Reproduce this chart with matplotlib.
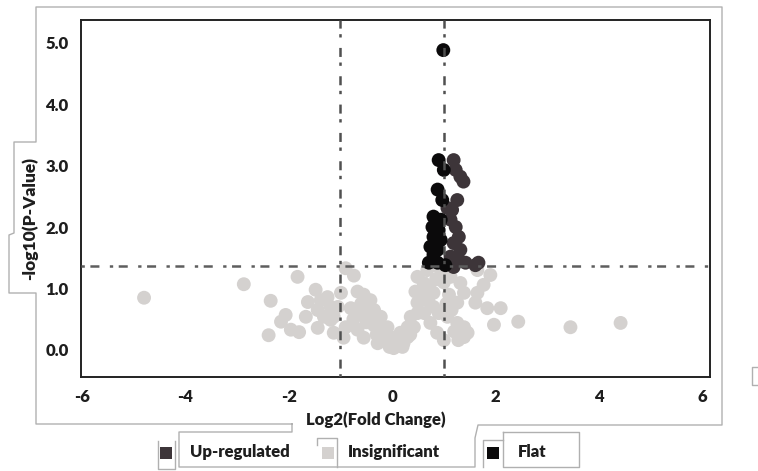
import matplotlib
matplotlib.use("Agg")
import matplotlib.pyplot as plt
from matplotlib.lines import Line2D
from matplotlib.patches import Rectangle

plt.rcParams['font.family'] = ['Lato', 'DejaVu Sans']
plt.rcParams['font.weight'] = 'heavy'
plt.rcParams['lines.scale_dashes'] = False

# ---------------- data ----------------
insig_x = [-4.80, -2.87, -2.35, -2.39, -2.06, -2.15, -1.96, -1.80, -1.83, -1.67,
           -1.63, -1.48, -1.44, -1.44, -1.25, -1.19, -1.19, -1.13, -0.90, -0.74,
           -0.99, -0.67, -0.55, -0.42, -0.80, -0.61, -0.42, -0.28, -0.90, -0.67,
           -0.94, -0.55, -0.28, -0.16, -0.09, 0.10, 0.03, 0.30, 0.42, 0.49,
           0.55, 0.61, 0.49, -1.13, -1.32, -1.38, -0.47, -0.35, -0.22, -0.09,
           0.16, 0.30, 0.22, 0.36, 0.49, 0.61, 0.68, 0.80, 0.80, 0.74,
           0.87, 1.00, 1.26, 1.39, 1.26, 1.39, 1.32, 1.13, 0.94, 1.65,
           1.90, 1.77, 1.65, 1.61, 1.84, 2.10, 1.97, 2.44, 1.39, 1.07,
           3.45, 4.42, -0.30, 0.00, 0.20, -0.50, 0.62, 0.72, 0.90, 1.10,
           1.00, 1.20, 1.46, 1.28, -0.75, -0.35, -0.05, 0.35, 0.70, 1.15,
           -1.05, -0.60, 0.45, 0.85, 1.05]
insig_y = [0.85, 1.07, 0.80, 0.24, 0.57, 0.46, 0.33, 0.29, 1.19, 0.54,
           0.78, 0.98, 0.65, 0.36, 0.86, 0.70, 0.49, 0.28, 1.33, 1.21,
           0.93, 0.95, 0.90, 0.81, 0.68, 0.60, 0.54, 0.44, 0.37, 0.33,
           0.20, 0.20, 0.11, 0.28, 0.16, 0.11, 0.03, 0.21, 0.37, 0.60,
           0.81, 1.09, 1.19, 0.54, 0.54, 0.81, 0.70, 0.65, 0.54, 0.37,
           0.28, 0.37, 0.11, 0.54, 0.77, 0.93, 1.30, 0.93, 0.70, 0.44,
           0.28, 0.16, 0.44, 0.21, 0.77, 0.93, 1.09, 1.19, 1.30, 1.30,
           1.22, 1.06, 0.93, 0.77, 0.68, 0.68, 0.41, 0.46, 0.37, 0.54,
           0.37, 0.44, 0.25, 0.20, 0.05, 0.45, 0.60, 1.00, 0.60, 0.90,
           1.10, 0.30, 0.28, 0.16, 0.50, 0.40, 0.05, 0.25, 0.80, 0.65,
           0.70, 0.75, 0.95, 1.15, 0.75]

up_x = [1.19, 1.23, 1.32, 1.38, 1.26, 1.16, 1.13, 1.23, 1.29, 1.19,
        1.32, 1.13, 1.29, 1.42, 1.67, 1.61, 1.19, 1.07]
up_y = [3.09, 2.93, 2.82, 2.74, 2.44, 2.28, 2.12, 2.00, 1.84, 1.74,
        1.63, 1.52, 1.47, 1.42, 1.42, 1.38, 1.35, 2.31]

flat_x = [0.99, 0.90, 1.00, 0.88, 0.97, 0.80, 0.94, 0.78, 0.90, 0.80,
          0.94, 0.74, 0.88, 0.71, 0.88, 1.03, 0.80]
flat_y = [4.88, 3.09, 2.93, 2.61, 2.44, 2.17, 2.12, 2.00, 1.95, 1.84,
          1.79, 1.68, 1.63, 1.42, 1.42, 1.38, 1.55]

fc_cut = [-1, 1]
p_cut = 1.36
xticks = [-6, -4, -2, 0, 2, 4, 6]
yticks = [0.0, 1.0, 2.0, 3.0, 4.0, 5.0]
legend_labels = ["Up-regulated", "Insignificant", "Flat"]

c_up = "#3d3539"
c_ins = "#d4d1cf"
c_flat = "#0b0a0b"

# ---------------- figure ----------------
W, H = 758, 471
fig = plt.figure(figsize=(W / 100, H / 100), dpi=100)
fig.patch.set_facecolor("white")

def fx(px):
    return px / W

def fy(py):
    return 1 - py / H

ax = fig.add_axes([fx(81), fy(377), fx(710) - fx(81), fy(20) - fy(377)])
ax.scatter(insig_x, insig_y, s=100, c=c_ins, edgecolors="none", zorder=2)
ax.scatter(up_x, up_y, s=100, c=c_up, edgecolors="none", zorder=3)
ax.scatter(flat_x, flat_y, s=100, c=c_flat, edgecolors="none", zorder=4)

dash = (0, (2.4, 4.0, 6.5, 7.5))
for v in fc_cut:
    ax.axvline(v, color="#505050", lw=1.8, linestyle=dash, zorder=5)
ax.axhline(p_cut, color="#5e5e5e", lw=1.8, linestyle=dash, zorder=5)

ax.set_xlim(-6.02, 6.15)
ax.set_ylim(-0.44, 5.37)
ax.set_xticks(xticks)
ax.set_xticklabels([str(t) for t in xticks])
ax.set_yticks(yticks)
ax.set_yticklabels([f"{t:.1f}" for t in yticks])
ax.tick_params(length=0, labelsize=12, colors="#1e1e1e", pad=9)
for lab in ax.get_xticklabels() + ax.get_yticklabels():
    lab.set_fontweight("heavy")
for sp in ax.spines.values():
    sp.set_color("#222222")
    sp.set_linewidth(1.4)

fig.text(fx(376), fy(420), "Log2(Fold Change)", ha="center", va="center",
         fontsize=12, fontweight="heavy", color="#1e1e1e")
fig.text(fx(30), fy(219), "-log10(P-Value)", ha="center", va="center",
         rotation=90, fontsize=12.5, fontweight="heavy", color="#1e1e1e")

# ---------------- decorative frames ----------------
def poly(pts, color="#b0b0b0", lw=1.0):
    fig.add_artist(Line2D([fx(p[0]) for p in pts], [fy(p[1]) for p in pts],
                          color=color, lw=lw, transform=fig.transFigure))

poly([(292, 424), (36, 424), (36, 293), (9, 293), (9, 235), (14, 233), (14, 142),
      (36, 142), (36, 7), (722, 7), (722, 425), (478, 425), (475, 438), (475, 467),
      (179, 467), (179, 432), (292, 432), (292, 424)])
poly([(317, 445), (317, 438), (337, 438), (337, 467)])
poly([(158, 441), (158, 469), (175, 469), (175, 441)])
poly([(503, 432), (579, 432), (579, 467), (503, 467), (503, 432)])
poly([(483, 467), (483, 440), (503, 440)])
poly([(758, 367), (752, 367), (752, 385), (758, 385)])

# ---------------- legend ----------------
legend_colors = [c_up, c_ins, c_flat]
marker_x = [160, 322, 487]
text_x = [190, 348, 518]
for lab, col, mx, tx in zip(legend_labels, legend_colors, marker_x, text_x):
    fig.add_artist(Rectangle((fx(mx), fy(459)), fx(12), 12 / H, facecolor=col,
                             edgecolor="none", transform=fig.transFigure))
    fig.text(fx(tx), fy(452), lab, ha="left", va="center", fontsize=12,
             fontweight="heavy", color="#1e1e1e")

fig.savefig("out.png", dpi=100)
